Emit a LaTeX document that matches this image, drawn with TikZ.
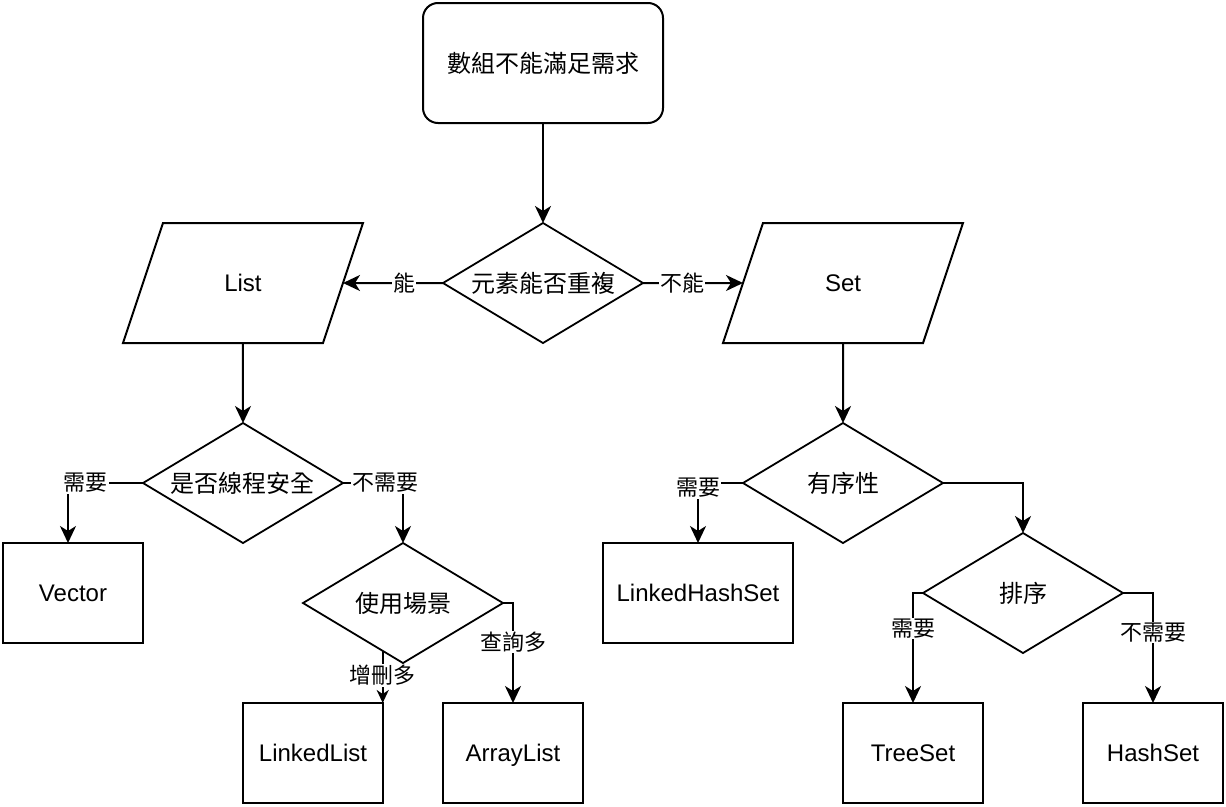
\documentclass[tikz,border=0pt]{standalone}
\usepackage{fontspec}
\setmainfont{Liberation Sans}
\newfontfamily\cjk{Noto Sans CJK TC}
\usetikzlibrary{arrows.meta,positioning,shapes.geometric}

\begin{document}
\begin{tikzpicture}[x=1pt,y=-1pt,line width=2pt,
    >={Stealth[length=17pt,width=16pt,inset=5pt]},
    every node/.style={font=\fontsize{24}{28}\selectfont,outer sep=0pt},
    box/.style={draw,rectangle,minimum width=140pt,minimum height=100pt,inner sep=0pt,
        text height=20pt,text depth=3pt},
    roundbox/.style={draw,rectangle,rounded corners=15pt,minimum width=240pt,minimum height=120pt,
        inner sep=0pt,font=\cjk\fontsize{24}{28}\selectfont},
    decision/.style={draw,diamond,aspect=1.667,minimum width=200pt,minimum height=120pt,
        inner sep=0pt,line width=1.8pt,font=\cjk\fontsize{24}{28}\selectfont},
    iobox/.style={draw,trapezium,trapezium left angle=71.57,trapezium right angle=108.43,
        trapezium stretches body,minimum width=240pt,inner xsep=0pt,inner ysep=48.5pt,
        text height=20pt,text depth=3pt},
    lbl/.style={fill=white,inner sep=1pt,font=\cjk\fontsize{22}{26}\selectfont}]

    \useasboundingbox (0,0) rectangle (1226,806);

    \node[roundbox] (start) at (543,63) {數組不能滿足需求};
    \node[decision] (dup) [below=100pt of start] {元素能否重複};
    \node[iobox] (list) [left=100pt of dup] {List};
    \node[iobox] (set) [right=100pt of dup] {Set};

    % List side
    \node[decision] (safe) [below=80pt of list] {是否線程安全};
    \node[box] (vector) [below left=60pt and 0pt of safe.west] {Vector};
    \node[decision] (scene) [below=60pt of safe.east, xshift=60pt] {使用場景};
    \node[box] (linked) [below left=40pt and 20pt of scene.south] {LinkedList};
    \node[box] (array) [below right=40pt and 40pt of scene.south] {ArrayList};

    % Set side
    \node[decision] (order) [below=80pt of set] {有序性};
    \node[box,minimum width=190pt] (lhs) [below=60pt of order.west, xshift=-45pt] {LinkedHashSet};
    \node[decision] (sort) [below=50pt of order.east, xshift=80pt] {排序};
    \node[box] (tree) [below=50pt of sort.south, xshift=-110pt] {TreeSet};
    \node[box] (hash) [below=50pt of sort.south, xshift=130pt] {HashSet};

    \draw[->] (start) -- (dup);
    \draw[->] (dup) -- node[lbl,pos=.39] {能} (list);
    \draw[->] (dup) -- node[lbl,pos=.39] {不能} (set);
    \draw[->] (list) -- (safe);
    \draw[->] (safe.west) -| node[lbl,pos=.38] {需要} ([xshift=-5pt]vector.north);
    \draw[->] (safe.east) -| node[lbl,pos=.35] {不需要} (scene.north);
    \draw[-{Stealth[length=13pt,width=12pt,inset=4pt]}] (scene.247.4)
        -- node[lbl,pos=.47] {增刪多} (scene.247.4 |- linked.north);
    \draw[->] (scene.east) -| node[lbl,pos=.695] {查詢多} (array.north);
    \draw[->] (set) -- (order);
    \draw[->] (order.west) -| node[lbl,pos=.5,yshift=-5pt] {需要} (lhs.north);
    \draw[->] (order.east) -| (sort.north);
    \draw[->] (sort.west) -| node[lbl,pos=.66] {需要} (tree.north);
    \draw[->] (sort.east) -| node[lbl,pos=.68] {不需要} (hash.north);
\end{tikzpicture}
\end{document}
